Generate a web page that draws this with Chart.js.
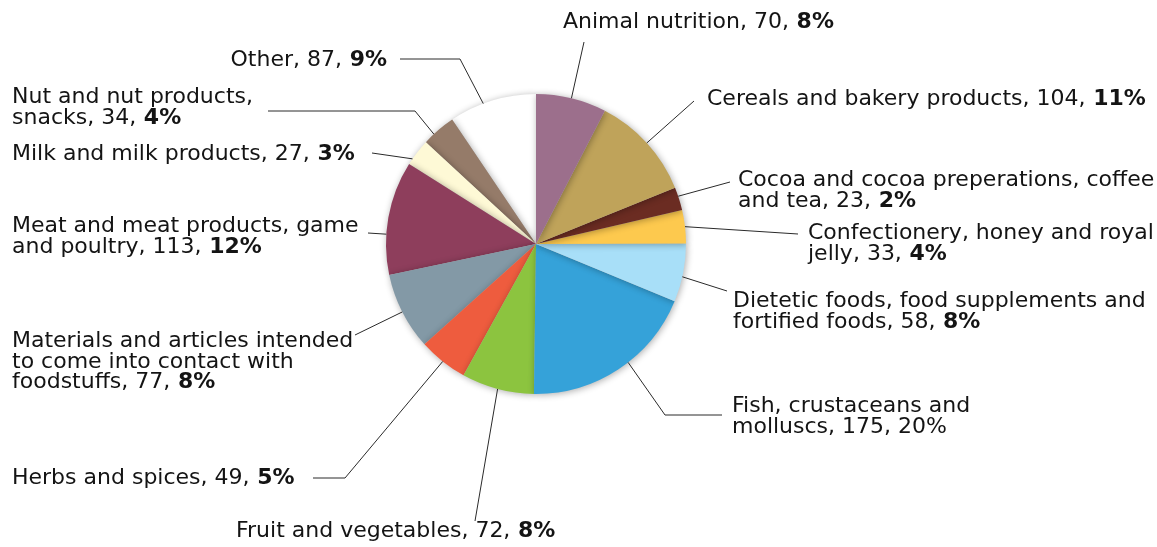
<!DOCTYPE html>
<html>
<head>
<meta charset="utf-8">
<script src="https://cdn.jsdelivr.net/npm/chart.js@4.4.1/dist/chart.umd.min.js"></script>
<style>
  html, body { margin: 0; padding: 0; background: #ffffff; }
  #wrap { position: relative; width: 1157px; height: 547px; }
</style>
</head>
<body>
<div id="wrap"><canvas id="c" width="1157" height="547"></canvas></div>
<script>
// ---- data ----
const categories = [
  'Animal nutrition',
  'Cereals and bakery products',
  'Cocoa and cocoa preperations, coffee and tea',
  'Confectionery, honey and royal jelly',
  'Dietetic foods, food supplements and fortified foods',
  'Fish, crustaceans and molluscs',
  'Fruit and vegetables',
  'Herbs and spices',
  'Materials and articles intended to come into contact with foodstuffs',
  'Meat and meat products, game and poultry',
  'Milk and milk products',
  'Nut and nut products, snacks',
  'Other'
];
const notificationCounts = [70, 104, 23, 33, 58, 175, 72, 49, 77, 113, 27, 34, 87];
const percentLabels = ['8%', '11%', '2%', '4%', '8%', '20%', '8%', '5%', '8%', '12%', '3%', '4%', '9%'];
const percentBold = [true, true, true, true, true, false, true, true, true, true, true, true, true];

// ---- styles ----
const sliceColors = [
  '#9C6F8C', '#BFA35A', '#6B2C22', '#FDC94E', '#A8DFF8', '#35A2D9', '#8CC43F',
  '#EE5C3E', '#8399A6', '#8E3E5C', '#FEF9D6', '#957B69', '#FFFFFF'
];
const FONT_SIZE = 22;
const LINE_H = 20.5;
const FONT_FAMILY = '"DejaVu Sans", Verdana, sans-serif';

// label layout: text anchor, word-break positions, leader-line path (points away from pie),
// anchorDeg = small angular shift of the leader-line start relative to slice middle
const labelLayout = [
  { x: 563, y: 28,  align: 'left',  breaks: [],     anchorDeg: 0,    path: [[584, 42]] },
  { x: 707, y: 105, align: 'left',  breaks: [],     anchorDeg: 0,    path: [[694, 101]] },
  { x: 738, y: 186, align: 'left',  breaks: [5],    anchorDeg: -1,   path: [[730, 182]] },
  { x: 808, y: 239, align: 'left',  breaks: [4],    anchorDeg: 0,    path: [[798, 234]] },
  { x: 733, y: 307, align: 'left',  breaks: [5],    anchorDeg: 1.5,  path: [[727, 291]] },
  { x: 732, y: 412, align: 'left',  breaks: [3],    anchorDeg: -4.5, path: [[665, 415], [722, 415]] },
  { x: 236, y: 537, align: 'left',  breaks: [],     anchorDeg: 0,    path: [[475, 521]] },
  { x: 12,  y: 484, align: 'left',  breaks: [],     anchorDeg: 0,    path: [[345, 478], [313, 478]] },
  { x: 12,  y: 347, align: 'left',  breaks: [4, 9], anchorDeg: 0,    path: [[355, 335]] },
  { x: 12,  y: 232, align: 'left',  breaks: [5],    anchorDeg: -6.4, path: [[368, 233]] },
  { x: 12,  y: 160, align: 'left',  breaks: [],     anchorDeg: -2.9, path: [[372, 153]] },
  { x: 12,  y: 103, align: 'left',  breaks: [4],    anchorDeg: -2.3, path: [[415, 111], [268, 111]] },
  { x: 387, y: 66,  align: 'right', breaks: [],     anchorDeg: -3.6, path: [[460, 59], [400, 59]] }
];

// draw slices in counter-clockwise order with a soft shadow
const shadowPlugin = {
  id: 'sliceShadow',
  beforeDatasetsDraw(chart) {
    const ctx = chart.ctx;
    const meta = chart.getDatasetMeta(0);
    ctx.save();
    ctx.shadowColor = 'rgba(0,0,0,0.33)';
    ctx.shadowBlur = 7;
    ctx.shadowOffsetX = 1;
    ctx.shadowOffsetY = 1;
    for (let i = meta.data.length - 1; i >= 0; i--) {
      meta.data[i].draw(ctx);
    }
    ctx.restore();
    return false;
  }
};

const labelPlugin = {
  id: 'leaderLabels',
  afterDraw(chart) {
    const ctx = chart.ctx;
    const meta = chart.getDatasetMeta(0);
    const normalFont = FONT_SIZE + 'px ' + FONT_FAMILY;
    const boldFont = 'bold ' + FONT_SIZE + 'px ' + FONT_FAMILY;
    meta.data.forEach((arc, i) => {
      const L = labelLayout[i];
      const p = arc.getProps(['x', 'y', 'startAngle', 'endAngle', 'outerRadius'], true);
      const mid = (p.startAngle + p.endAngle) / 2 + (L.anchorDeg || 0) * Math.PI / 180;
      const ax = p.x + Math.cos(mid) * p.outerRadius;
      const ay = p.y + Math.sin(mid) * p.outerRadius;
      // leader line
      ctx.save();
      ctx.strokeStyle = '#2a2a2a';
      ctx.lineWidth = 1;
      ctx.beginPath();
      ctx.moveTo(ax, ay);
      L.path.forEach(pt => ctx.lineTo(pt[0], pt[1]));
      ctx.stroke();
      ctx.restore();

      // label text
      const tokens = (categories[i] + ', ' + notificationCounts[i] + ',').split(' ')
        .map(w => ({ t: w, bold: false }));
      tokens.push({ t: percentLabels[i], bold: percentBold[i] });
      const lines = [];
      let cur = [];
      tokens.forEach((tk, k) => {
        cur.push(tk);
        if (L.breaks.includes(k + 1)) { lines.push(cur); cur = []; }
      });
      if (cur.length) lines.push(cur);

      ctx.save();
      ctx.fillStyle = '#141414';
      ctx.textBaseline = 'alphabetic';
      ctx.textAlign = 'left';
      lines.forEach((line, li) => {
        const parts = [];
        line.forEach((tk, k) => {
          const txt = (k > 0 ? ' ' : '') + tk.t;
          parts.push({ txt, font: tk.bold ? boldFont : normalFont });
        });
        let total = 0;
        parts.forEach(pt => { ctx.font = pt.font; pt.w = ctx.measureText(pt.txt).width; total += pt.w; });
        let x = L.align === 'right' ? L.x - total : L.x;
        const y = L.y + li * LINE_H;
        parts.forEach(pt => { ctx.font = pt.font; ctx.fillText(pt.txt, x, y); x += pt.w; });
      });
      ctx.restore();
    });
  }
};

new Chart(document.getElementById('c'), {
  type: 'pie',
  data: {
    labels: categories,
    datasets: [{
      data: notificationCounts,
      backgroundColor: sliceColors,
      borderWidth: 0,
      hoverOffset: 0
    }]
  },
  options: {
    responsive: false,
    animation: false,
    events: [],
    layout: { padding: { left: 386, right: 471, top: 94, bottom: 153 } },
    plugins: {
      legend: { display: false },
      tooltip: { enabled: false }
    }
  },
  plugins: [shadowPlugin, labelPlugin]
});
</script>
</body>
</html>
